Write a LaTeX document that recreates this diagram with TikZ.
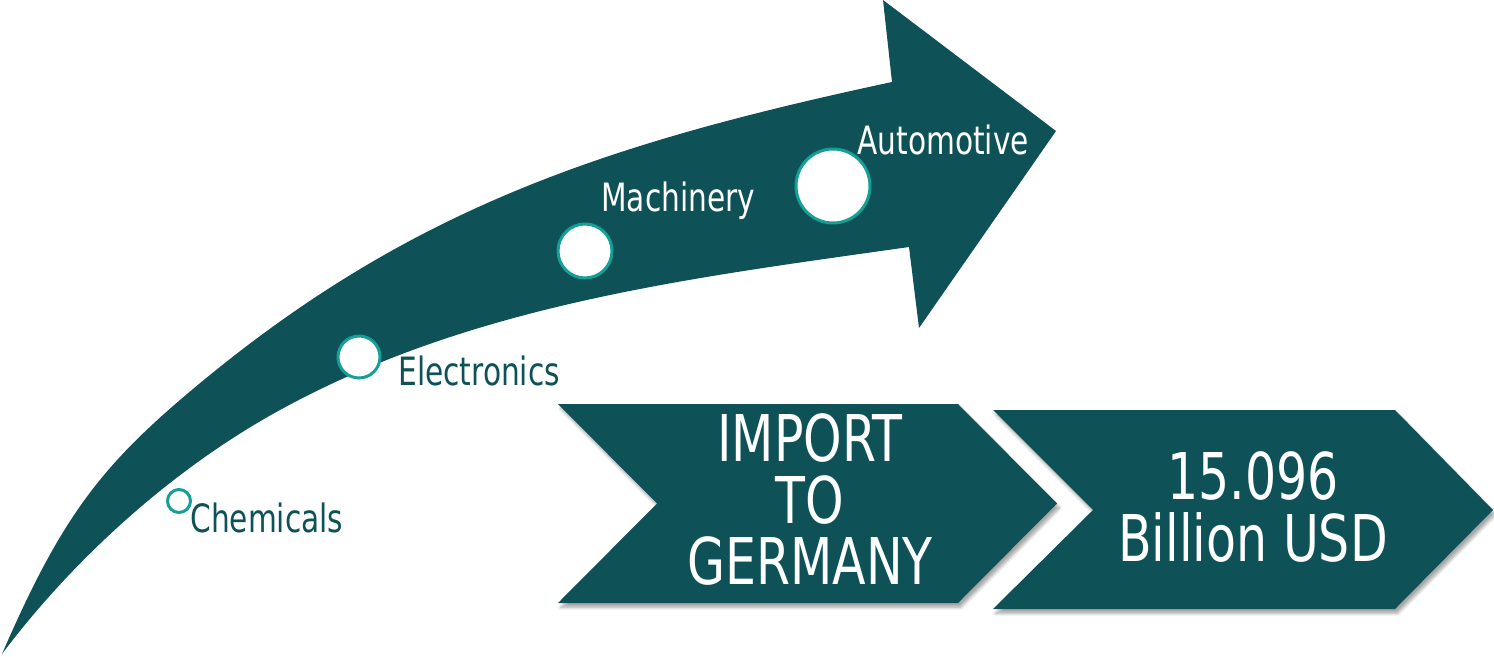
\documentclass[tikz,border=0pt]{standalone}
\usepackage{fontspec}
\newfontfamily\lbl{DejaVu Sans}[FakeStretch=0.76]
\usetikzlibrary{shadows.blur}
\definecolor{maint}{RGB}{14,82,87}
\definecolor{ringc}{RGB}{20,160,150}
\begin{document}
\begin{tikzpicture}[x=0.02cm,y=-0.02cm,
  dotc/.style={circle,draw=ringc,line width=1.7pt,fill=white,inner sep=0pt},
  lab/.style={anchor=base west,inner sep=0pt,font=\lbl\fontsize{22.2}{26}\selectfont},
  chev/.style={fill=maint,blur shadow={shadow xshift=1.5pt,shadow yshift=-2.5pt,shadow opacity=35,shadow blur steps=6}},
  big/.style={align=center,text=white,inner sep=0pt,font=\lbl\fontsize{36.7}{35}\selectfont}]
\useasboundingbox (0,0) rectangle (1494,656);
% curved arrow
\fill[maint] (2,654) .. controls (58,525) and (96,472) .. (180,400)
  .. controls (400,211.5) and (598,145) .. (892,82)
  -- (883,0) -- (1056,131) -- (919,328) -- (909,247)
  .. controls (691,278) and (473,304) .. (280,410)
  .. controls (166,472.4) and (68,566) .. (2,654) -- cycle;
% chevrons
\fill[chev] (558,404) -- (958,404) -- (1057,503.5) -- (958,603) -- (558,603) -- (657,503.5) -- cycle;
\fill[chev] (993,410) -- (1395,410) -- (1493,510) -- (1395,609) -- (993,609) -- (1093,510) -- cycle;
% circles
\node[dotc,minimum size=0.46cm] (c1) at (179,501) {};
\node[dotc,minimum size=0.84cm] (c2) at (359,357) {};
\node[dotc,minimum size=1.08cm] (c3) at (585,251) {};
\node[dotc,minimum size=1.48cm] (c4) at (833,186) {};
% labels
\node[lab,text=maint] (l1) at (190,532) {Chemicals};
\node[lab,text=maint] (l2) at (398,385) {Electronics};
\node[lab,text=white] (l3) at (601,211) {Machinery};
\node[lab,text=white] (l4) at (857,154) {Automotive};
% chevron texts
\node[big] (t1) at (810,500) {IMPORT\\TO\\GERMANY};
\node[big] (t2) at (1253,507) {15.096\\Billion USD};
\end{tikzpicture}
\end{document}
